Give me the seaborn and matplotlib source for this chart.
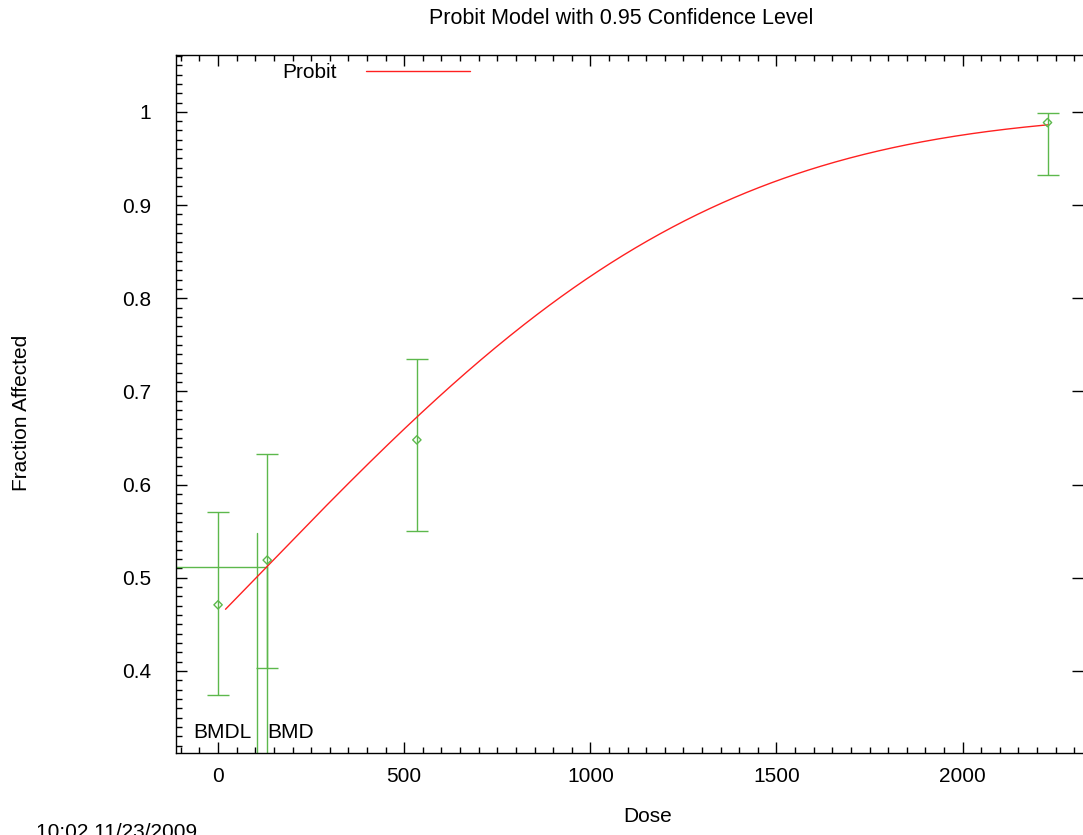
import math
import numpy as np
import pandas as pd
import matplotlib
matplotlib.use("Agg")
import matplotlib.pyplot as plt
import seaborn as sns
from matplotlib.ticker import MultipleLocator, FuncFormatter

# ---- data ----
doses = [0, 132, 534, 2228]
frac_affected = [0.471, 0.519, 0.648, 0.9885]
ci_low = [0.374, 0.403, 0.5505, 0.932]
ci_high = [0.5705, 0.633, 0.7345, 0.999]

# probit model parameters (fitted curve): P = Phi(intercept + slope*dose)
probit_intercept = -0.1054
probit_slope = 0.001034
curve_start, curve_end = 20, 2228

bmd = 131.5
bmdl = 105.5
bmr_level = 0.5116
bmdl_line_top = 0.548

x_ticks = [0, 500, 1000, 1500, 2000]
y_ticks = [0.4, 0.5, 0.6, 0.7, 0.8, 0.9, 1.0]

# ---- build curve table ----
curve_dose = np.linspace(curve_start, curve_end, 400)
curve_p = [0.5 * (1 + math.erf((probit_intercept + probit_slope * d) / math.sqrt(2)))
           for d in curve_dose]
curve_df = pd.DataFrame({"Dose": curve_dose, "P": curve_p})
pts_df = pd.DataFrame({"Dose": doses, "Frac": frac_affected,
                       "lo": ci_low, "hi": ci_high})

sns.set_theme(style="ticks")
plt.rcParams["font.family"] = ["Liberation Sans", "DejaVu Sans"]
plt.rcParams["text.color"] = "black"
plt.rcParams["axes.labelcolor"] = "black"
plt.rcParams["xtick.color"] = "black"
plt.rcParams["ytick.color"] = "black"

W, H = 1083, 835
fig = plt.figure(figsize=(W / 100, H / 100), dpi=100)
left, right, top, bottom = 176, 1082.5, 55, 753
ax = fig.add_axes([left / W, 1 - bottom / H, (right - left) / W, (bottom - top) / H])

green = "#5cb84c"
red = "#ff2020"

# BMD / BMDL lines
ax.plot([-200, bmd], [bmr_level, bmr_level], color=green, lw=1.0)
ax.plot([bmd, bmd], [0.0, bmr_level], color=green, lw=1.0)
ax.plot([bmdl, bmdl], [0.0, bmdl_line_top], color=green, lw=1.0)

# error bars
ax.errorbar(pts_df["Dose"], pts_df["Frac"],
            yerr=[pts_df["Frac"] - pts_df["lo"], pts_df["hi"] - pts_df["Frac"]],
            fmt="none", ecolor=green, elinewidth=1.0, capsize=8, capthick=1.0)
sns.scatterplot(data=pts_df, x="Dose", y="Frac", ax=ax, marker="D", s=18,
                facecolor="none", edgecolor=green, linewidth=1.0, zorder=5)

sns.lineplot(data=curve_df, x="Dose", y="P", ax=ax, color=red, lw=1.0,
             label="Probit", zorder=4)

ax.set_xlim(-113, 2322)
ax.set_ylim(0.312, 1.061)

ax.xaxis.set_major_locator(plt.FixedLocator(x_ticks))
ax.yaxis.set_major_locator(plt.FixedLocator(y_ticks))
ax.xaxis.set_minor_locator(MultipleLocator(50))
ax.yaxis.set_minor_locator(MultipleLocator(0.01))
ax.yaxis.set_major_formatter(FuncFormatter(lambda v, p: f"{v:g}"))

ax.tick_params(which="both", direction="in", top=True, right=True, color="black",
               width=1.0, labelsize=15, labelcolor="black")
ax.tick_params(which="major", length=8)
ax.tick_params(which="minor", length=4)
ax.tick_params(which="minor", right=False)
ax.tick_params(axis="y", pad=18)
ax.tick_params(axis="x", pad=10)

for s in ["left", "top", "bottom"]:
    ax.spines[s].set_color("black")
    ax.spines[s].set_linewidth(1.0)
ax.spines["right"].set_visible(False)

ax.set_xlabel("")
ax.set_ylabel("")
fig.text(648 / W, 1 - 817 / H, "Dose", ha="center", va="center", fontsize=15, color="black")
fig.text(22 / W, 1 - 413 / H, "Fraction Affected", ha="center", va="center",
         rotation=90, fontsize=15, color="black")
fig.text(621 / W, 1 - 18 / H, "Probit Model with 0.95 Confidence Level",
         ha="center", va="center", fontsize=15.5, color="black")
fig.text(36 / W, 1 - 823 / H, "10:02 11/23/2009", ha="left", va="top", fontsize=15,
         color="black")

ax.text(bmdl - 15, 0.3335, "BMDL", ha="right", va="center", fontsize=15, color="black")
ax.text(bmd, 0.3335, "BMD", ha="left", va="center", fontsize=15, color="black")

leg = ax.legend(loc="center left", bbox_to_anchor=(106 / (right - left), 1 - (73 - top) / (bottom - top)),
                frameon=False, markerfirst=False, handlelength=5.0, handletextpad=1.4,
                fontsize=15, borderaxespad=0, borderpad=0)
for t in leg.get_texts():
    t.set_color("black")

fig.savefig("out.png", dpi=100)
